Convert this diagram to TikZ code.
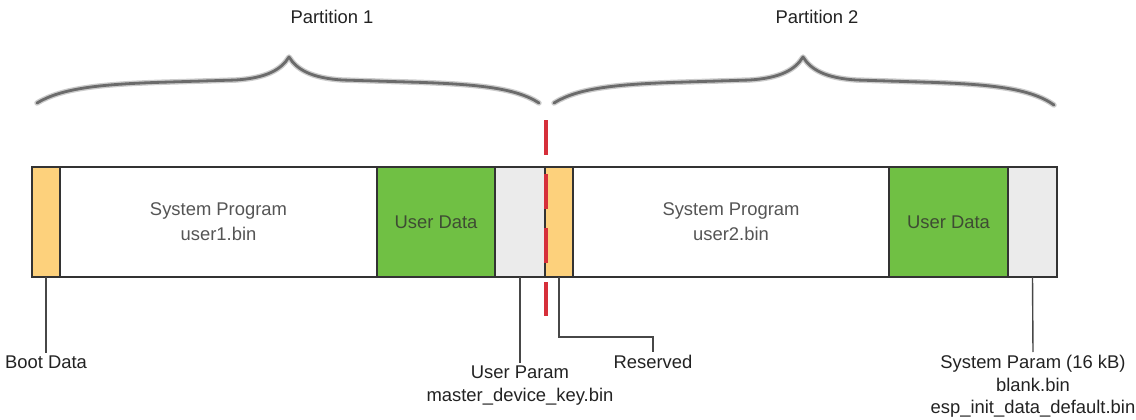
\documentclass[tikz,border=0pt]{standalone}
\usepackage{fontspec}
\setmainfont{Liberation Sans}
\definecolor{bootorange}{HTML}{FDD17C}
\definecolor{datagreen}{HTML}{70C044}
\definecolor{paramgray}{HTML}{EBEBEB}
\definecolor{edgegray}{HTML}{333333}
\definecolor{splitred}{HTML}{D62F3A}
\definecolor{intext}{HTML}{555555}
\definecolor{greentext}{HTML}{3E4C33}
\definecolor{lbltext}{HTML}{222222}
\tikzset{
  seg/.style={draw=edgegray, line width=1.6pt, minimum height=110pt,
    inner sep=0pt, outer sep=0pt, anchor=north west},
  segtext/.style={font=\fontsize{18.4}{25}\selectfont, text=intext, align=center},
  lbl/.style={font=\fontsize{18.4}{22.5}\selectfont, text=lbltext, align=center, inner sep=3pt},
  leader/.style={draw=edgegray!90, line width=1.4pt},
  bracehalo/.style={draw=black!20, line width=5.5pt, line cap=round, line join=round},
  bracecore/.style={draw=black!58, line width=2.8pt, line cap=round, line join=round},
  split/.style={draw=splitred, line width=3.6pt, dash pattern=on 35pt off 19pt},
}
\begin{document}
\begin{tikzpicture}[x=1pt, y=-1pt]
\useasboundingbox (0,0) rectangle (1136,420);

% memory map segments
\node[seg, fill=bootorange, minimum width=28pt]  (boot)   at (32,167)  {};
\node[seg, fill=white,      minimum width=317pt] (prog1)  at (60,167)  {};
\node[seg, fill=datagreen,  minimum width=118pt] (udata1) at (377,167) {};
\node[seg, fill=paramgray,  minimum width=50pt]  (uparam) at (495,167) {};
\node[seg, fill=bootorange, minimum width=28pt]  (resv)   at (545,167) {};
\node[seg, fill=white,      minimum width=316pt] (prog2)  at (573,167) {};
\node[seg, fill=datagreen,  minimum width=119pt] (udata2) at (889,167) {};
\node[seg, fill=paramgray,  minimum width=49pt]  (sparam) at (1008,167) {};

% texts inside the segments
\node[segtext] (t1) at (prog1.center) {System Program\\user1.bin};
\node[segtext] (t2) at (prog2.center) {System Program\\user2.bin};
\node[segtext, text=greentext] (t3) at (udata1.center) {User Data};
\node[segtext, text=greentext] (t4) at (udata2.center) {User Data};

% labels below the map
\node[lbl, anchor=north] (bootlbl) at (46,353)  {Boot Data};
\node[lbl, anchor=north] (uplbl)   at (520,363) {User Param\\master\_device\_key.bin};
\node[lbl, anchor=north] (rlbl)    at (653,352) {Reserved};
\node[lbl, anchor=north] (splbl)   at (1033,352) {System Param (16 kB)\\blank.bin\\esp\_init\_data\_default.bin};
\coordinate (rbend) at (653,337);

\draw[leader] (boot.south) -- (bootlbl.north);
\draw[leader] (uparam.south) -- (uplbl.north);
\draw[leader] (resv.south) |- (rbend) -- (rlbl.north);
\draw[leader] (sparam.south) -- (splbl.north);

% partition boundary
\coordinate (splittop) at (546,120);
\coordinate (splitbot) at (546,316);
\draw[split] (splittop) -- (splitbot);

% partition braces
\foreach \st in {bracehalo, bracecore}{
  \draw[\st] (37,103) .. controls (62,88) and (100,84) .. (170,82)
    -- (236,80) .. controls (266,78) and (281,70) .. (289,57)
    .. controls (297,70) and (312,78) .. (342,80)
    -- (408,82) .. controls (478,84) and (516,88) .. (539,103);
  \draw[\st] (554,103) .. controls (578,88) and (616,84) .. (686,82)
    -- (750,80) .. controls (780,78) and (795,70) .. (803,57)
    .. controls (811,70) and (826,78) .. (856,80)
    -- (920,82) .. controls (990,84) and (1030,88) .. (1054,105);
}
\node[lbl] (p1) at (332,17) {Partition 1};
\node[lbl] (p2) at (817,17) {Partition 2};
\end{tikzpicture}
\end{document}
